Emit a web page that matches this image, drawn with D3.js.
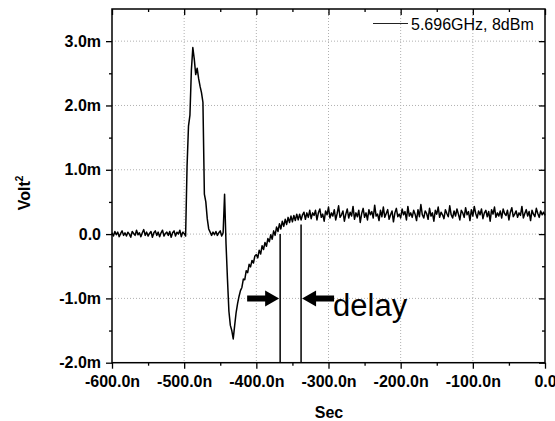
<!DOCTYPE html>
<html><head><meta charset="utf-8">
<script src="https://cdn.jsdelivr.net/npm/d3@7"></script>
<style>body{margin:0;background:#fff}svg{display:block}</style>
</head><body><svg id="c" width="555" height="421"></svg>
<script>
// ---- data ----
const timeStart = -600;   // ns
const timeStep = 2;       // ns between samples
const voltValues = [ // Volt^2 in milli units
  0.02,-0.03,0.04,-0.01,0.03,-0.04,0.01,0.05,-0.02,0.02,      // -600
  -0.03,0.03,0.00,-0.05,0.04,0.01,-0.02,0.06,-0.01,0.02,      // -580
  -0.04,0.02,0.07,-0.02,0.03,-0.03,0.01,0.04,-0.05,0.02,      // -560
  0.05,-0.02,0.03,-0.04,0.02,0.06,-0.03,0.01,0.03,-0.02,      // -540
  0.04,-0.05,0.02,0.05,-0.03,0.03,0.00,0.06,-0.04,0.03,       // -520
  0.01,-0.03,1.05,1.68,1.85,2.55,2.90,2.72,2.48,2.58,         // -500
  2.42,2.30,2.20,2.05,0.62,0.50,0.24,0.08,0.03,-0.02,         // -480
  0.03,-0.01,0.04,-0.02,0.02,0.05,-0.03,0.02,0.62,-0.15,      // -460
  -0.70,-1.20,-1.42,-1.50,-1.63,-1.42,-1.22,-1.08,-0.97,-0.88,// -440
  -0.83,-0.70,-0.71,-0.57,-0.60,-0.47,-0.51,-0.41,-0.45,-0.34,// -420
  -0.32,-0.37,-0.25,-0.31,-0.18,-0.24,-0.13,-0.19,-0.07,-0.12,// -400
  -0.01,-0.08,0.05,-0.02,0.11,0.04,0.16,0.08,0.20,0.12,       // -380
  0.23,0.15,0.26,0.18,0.28,0.19,0.29,0.21,0.31,0.22,          // -360
  0.31,0.22,0.30,0.34,0.23,0.33,0.26,0.37,0.24,0.33,          // -340
  0.29,0.37,0.22,0.33,0.39,0.26,0.31,0.20,0.36,0.30,          // -320
  0.42,0.25,0.33,0.28,0.38,0.22,0.32,0.44,0.26,0.30,          // -300
  0.36,0.20,0.31,0.39,0.25,0.34,0.28,0.43,0.23,0.33,          // -280
  0.27,0.37,0.18,0.32,0.40,0.26,0.33,0.22,0.38,0.30,          // -260
  0.35,0.25,0.45,0.28,0.31,0.21,0.37,0.27,0.42,0.26,          // -240
  0.32,0.38,0.23,0.30,0.36,0.19,0.33,0.40,0.27,0.31,          // -220
  0.25,0.39,0.30,0.35,0.22,0.43,0.28,0.33,0.26,0.37,          // -200
  0.31,0.21,0.38,0.27,0.46,0.30,0.25,0.36,0.32,0.23,          // -180
  0.40,0.28,0.33,0.20,0.37,0.31,0.42,0.26,0.34,0.30,          // -160
  0.24,0.38,0.32,0.27,0.44,0.30,0.25,0.36,0.28,0.39,          // -140
  0.31,0.22,0.37,0.33,0.26,0.41,0.30,0.35,0.21,0.38,          // -120
  0.28,0.43,0.32,0.25,0.36,0.30,0.39,0.24,0.33,0.37,          // -100
  0.27,0.35,0.20,0.38,0.31,0.42,0.26,0.33,0.28,0.36,          // -80
  0.25,0.39,0.32,0.29,0.37,0.22,0.34,0.41,0.27,0.31,          // -60
  0.36,0.26,0.33,0.29,0.43,0.25,0.32,0.38,0.28,0.35,          // -40
  0.21,0.37,0.31,0.27,0.40,0.32,0.26,0.36,0.30,0.34,          // -20
  0.29                                                        // 0
];
const xTicks = [-600,-500,-400,-300,-200,-100,0];
const xTickLabels = ["-600.0n","-500.0n","-400.0n","-300.0n","-200.0n","-100.0n","0.0"];
const xMinorTicks = [-550,-450,-350,-250,-150,-50];
const yTicks = [-2,-1,0,1,2,3];
const yTickLabels = ["-2.0m","-1.0m","0.0","1.0m","2.0m","3.0m"];
const yMinorTicks = [-1.5,-0.5,0.5,1.5,2.5];
const legendLabel = "5.696GHz, 8dBm";
const xLabel = "Sec";
const yLabel = "Volt";
const delayMarkerTimes = [-367,-338];
const delayMarkerTops = [0.0,0.15];
const delayArrowLevel = -1.0;
const delayText = "delay";

// ---- layout ----
const L=112, R=545, T=9, B=362.7;
const FONT="Arial, 'Liberation Sans', sans-serif";
const svg=d3.select("#c");
const x=d3.scaleLinear().domain([-600,0]).range([L,R]);
const y=d3.scaleLinear().domain([-2,3.5]).range([B,T]);

// grid
const grid=svg.append("g").attr("stroke","#b0b0b0").attr("stroke-width",1).attr("stroke-dasharray","1,2");
grid.selectAll("line.gx").data(xTicks.slice(1,-1)).join("line")
  .attr("x1",d=>x(d)).attr("x2",d=>x(d)).attr("y1",T).attr("y2",B);
grid.selectAll("line.gy").data(yTicks.slice(1)).join("line")
  .attr("y1",d=>y(d)).attr("y2",d=>y(d)).attr("x1",L).attr("x2",R);

// trace
const pts=voltValues.map((v,i)=>[timeStart+i*timeStep,v]);
svg.append("path").datum(pts).attr("fill","none").attr("stroke","#000").attr("stroke-width",1.5)
  .attr("stroke-linejoin","round")
  .attr("d",d3.line().x(d=>x(d[0])).y(d=>y(d[1])));

// axes
function style(g){g.select(".domain").remove();g.selectAll("line").attr("stroke","#000").attr("stroke-width",1.3);
  g.selectAll("text").attr("font-family",FONT).attr("font-weight","bold").attr("font-size",16).attr("fill","#000");}
svg.append("g").attr("transform",`translate(0,${B})`)
  .call(d3.axisBottom(x).tickValues(xTicks).tickSize(6).tickPadding(6.5).tickFormat((d,i)=>xTickLabels[i])).call(style);
svg.append("g").attr("transform",`translate(0,${B})`)
  .call(d3.axisBottom(x).tickValues(xMinorTicks).tickSize(3).tickFormat("")).call(style);
svg.append("g").attr("transform",`translate(0,${T})`)
  .call(d3.axisTop(x).tickValues(xTicks).tickSize(-6).tickFormat("")).call(style);
svg.append("g").attr("transform",`translate(0,${T})`)
  .call(d3.axisTop(x).tickValues(xMinorTicks).tickSize(-3).tickFormat("")).call(style);
svg.append("g").attr("transform",`translate(${L},0)`)
  .call(d3.axisLeft(y).tickValues(yTicks).tickSize(6).tickPadding(5).tickFormat((d,i)=>yTickLabels[i])).call(style);
svg.append("g").attr("transform",`translate(${L},0)`)
  .call(d3.axisLeft(y).tickValues(yMinorTicks).tickSize(3).tickFormat("")).call(style);
svg.append("g").attr("transform",`translate(${R},0)`)
  .call(d3.axisRight(y).tickValues(yTicks).tickSize(-6).tickFormat("")).call(style);
svg.append("g").attr("transform",`translate(${R},0)`)
  .call(d3.axisRight(y).tickValues(yMinorTicks).tickSize(-3).tickFormat("")).call(style);

// frame
svg.append("rect").attr("x",L).attr("y",T).attr("width",R-L).attr("height",B-T)
  .attr("fill","none").attr("stroke","#000").attr("stroke-width",1.5);

// axis titles
svg.append("text").attr("x",(L+R)/2+0.5).attr("y",418).attr("text-anchor","middle")
  .attr("font-family",FONT).attr("font-weight","bold").attr("font-size",16).text(xLabel);
const yl=svg.append("text").attr("transform","translate(30,193) rotate(-90)").attr("text-anchor","middle")
  .attr("font-family",FONT).attr("font-weight","bold").attr("font-size",16);
yl.append("tspan").text(yLabel);
yl.append("tspan").attr("font-size",10).attr("dy",-7).text("2");

// legend
svg.append("line").attr("x1",373).attr("x2",408).attr("y1",23.5).attr("y2",23.5).attr("stroke","#222").attr("stroke-width",1);
svg.append("text").attr("x",411).attr("y",29.5).attr("font-family",FONT).attr("font-size",16).text(legendLabel);

// delay annotation
svg.selectAll("line.dm").data(delayMarkerTimes).join("line")
  .attr("x1",d=>x(d)).attr("x2",d=>x(d)).attr("y1",B).attr("y2",(d,i)=>y(delayMarkerTops[i]))
  .attr("stroke","#000").attr("stroke-width",1.5);
const ay=y(delayArrowLevel);
const x1=x(delayMarkerTimes[0]), x2=x(delayMarkerTimes[1]);
function arrow(tip,dir){ // dir +1 pointing right, -1 pointing left
  const hl=14, hw=8, sw=3, len=32;
  const p=[[tip,ay],[tip-dir*hl,ay-hw],[tip-dir*hl,ay-sw],[tip-dir*len,ay-sw],[tip-dir*len,ay+sw],[tip-dir*hl,ay+sw],[tip-dir*hl,ay+hw]];
  svg.append("path").attr("d","M"+p.map(q=>q.join(",")).join("L")+"Z").attr("fill","#000");
}
arrow(x1-1,1);
arrow(x2+1,-1);
svg.append("text").attr("x",x2+32).attr("y",316).attr("font-family",FONT).attr("font-size",31).text(delayText);
</script></body></html>
